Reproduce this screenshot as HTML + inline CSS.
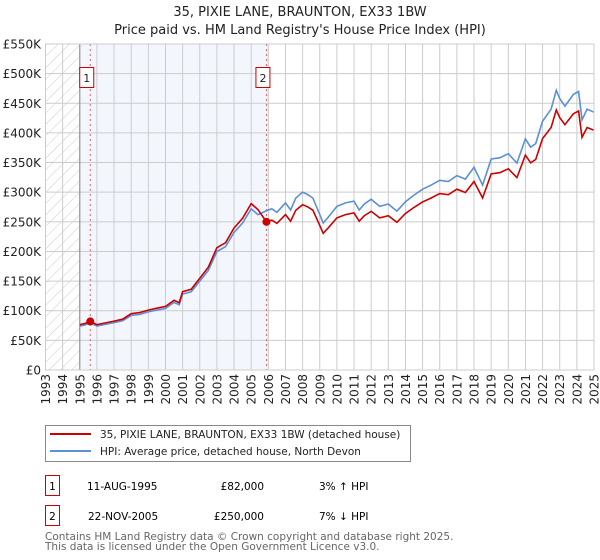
<!DOCTYPE html>
<html><head><meta charset="utf-8"><style>
body{margin:0;background:#fff;font-family:"DejaVu Sans","Liberation Sans",sans-serif;}
#wrap{position:relative;width:600px;height:560px;overflow:hidden;}
</style></head><body>
<div id="wrap">
<svg id="chart" width="600" height="560" xmlns="http://www.w3.org/2000/svg" font-family="DejaVu Sans, Liberation Sans, sans-serif">
<text x="300" y="16" text-anchor="middle" font-size="13" fill="#222">35, PIXIE LANE, BRAUNTON, EX33 1BW</text>
<text x="300" y="34" text-anchor="middle" font-size="13" fill="#222">Price paid vs. HM Land Registry's House Price Index (HPI)</text>
<defs><pattern id="hatch" width="8" height="8" patternUnits="userSpaceOnUse" patternTransform="rotate(45)"><line x1="0" y1="0" x2="0" y2="8" stroke="#ccc" stroke-width="1"/></pattern></defs>
<g id="plot"></g>
<g id="lower">
<rect x="45.5" y="425.5" width="365" height="36" fill="#fff" stroke="#888"/>
<line x1="50" y1="434" x2="91" y2="434" stroke="#cc0000" stroke-width="2"/>
<text x="100" y="438" font-size="10.5" fill="#222">35, PIXIE LANE, BRAUNTON, EX33 1BW (detached house)</text>
<line x1="50" y1="451" x2="91" y2="451" stroke="#5b8fd6" stroke-width="2"/>
<text x="100" y="455" font-size="10.5" fill="#222">HPI: Average price, detached house, North Devon</text>
<rect x="45.5" y="475.5" width="14" height="20" fill="#fff" stroke="#cc0000"/>
<text x="52.5" y="490" font-size="10.5" text-anchor="middle">1</text>
<text x="87" y="490" font-size="10.5">11-AUG-1995</text>
<text x="264" y="490" font-size="10.5" text-anchor="end">£82,000</text>
<text x="319" y="490" font-size="10.5">3% ↑ HPI</text>
<rect x="45.5" y="505.5" width="14" height="20" fill="#fff" stroke="#cc0000"/>
<text x="52.5" y="520" font-size="10.5" text-anchor="middle">2</text>
<text x="88" y="520" font-size="10.5">22-NOV-2005</text>
<text x="264" y="520" font-size="10.5" text-anchor="end">£250,000</text>
<text x="319" y="520" font-size="10.5">7% ↓ HPI</text>
<text x="45" y="540" font-size="10.5" fill="#666">Contains HM Land Registry data © Crown copyright and database right 2025.</text>
<text x="45" y="550" font-size="10.5" fill="#666">This data is licensed under the Open Government Licence v3.0.</text>
</g>
</svg>
</div>
<script>
const hpiYears = [1995.0,1995.3,1995.6,1996.0,1996.5,1997.0,1997.5,1998.0,1998.5,1999.0,1999.5,2000.0,2000.5,2000.8,2001.0,2001.5,2002.0,2002.5,2003.0,2003.5,2004.0,2004.5,2005.0,2005.4,2005.9,2006.2,2006.5,2007.0,2007.3,2007.6,2008.0,2008.3,2008.6,2009.0,2009.2,2009.5,2010.0,2010.5,2011.0,2011.3,2011.6,2012.0,2012.5,2013.0,2013.5,2014.0,2014.5,2015.0,2015.5,2016.0,2016.5,2017.0,2017.5,2018.0,2018.5,2019.0,2019.5,2020.0,2020.5,2021.0,2021.3,2021.6,2022.0,2022.5,2022.8,2023.0,2023.3,2023.8,2024.1,2024.3,2024.6,2025.0];
const hpiValues = [74000,76000,79600,74000,77000,80000,83000,92000,94000,98000,101000,104000,114000,110000,128000,132000,150000,168000,200000,208000,232000,248000,272000,262000,269000,272000,266000,282000,270000,290000,300000,296000,290000,262000,248000,258000,276000,282000,285000,270000,280000,288000,276000,280000,268000,284000,295000,305000,312000,320000,318000,328000,322000,342000,312000,356000,358000,365000,349000,390000,376000,382000,420000,440000,472000,458000,445000,465000,470000,422000,440000,435000];
const saleYears = [1995.61, 2005.89];
const salePrices = [82000, 250000];
const yTicks = [0,50000,100000,150000,200000,250000,300000,350000,400000,450000,500000,550000];
const yTickLabels = ["£0","£50K","£100K","£150K","£200K","£250K","£300K","£350K","£400K","£450K","£500K","£550K"];
const xTicks = [1993,1994,1995,1996,1997,1998,1999,2000,2001,2002,2003,2004,2005,2006,2007,2008,2009,2010,2011,2012,2013,2014,2015,2016,2017,2018,2019,2020,2021,2022,2023,2024,2025];

const L=45.5,R=594,T=44,B=370;
const xs=y=>L+(y-1993)/(2025-1993)*(R-L);
const ys=v=>B-v/550000*(B-T);
const NS="http://www.w3.org/2000/svg";
const g=document.getElementById('plot');
function mk(tag,attrs){const e=document.createElementNS(NS,tag);for(const k in attrs)e.setAttribute(k,attrs[k]);g.appendChild(e);return e;}
function hpiAt(t){for(let i=1;i<hpiYears.length;i++){if(t<=hpiYears[i]){const f=(t-hpiYears[i-1])/(hpiYears[i]-hpiYears[i-1]);return hpiValues[i-1]+f*(hpiValues[i]-hpiValues[i-1]);}}return hpiValues[hpiValues.length-1];}

let e=mk('rect',{x:xs(1995),y:T,width:xs(saleYears[1])-xs(1995)+2,height:B-T,fill:'#eef3fc',opacity:0.7});


e=mk('rect',{x:L,y:T,width:xs(1995)-L,height:B-T,fill:'url(#hatch)'});


yTicks.forEach((v,i)=>{
  let l=mk('line',{x1:L,x2:R,y1:ys(v),y2:ys(v),stroke:'#ccc','stroke-width':1});
  
  
  let t=mk('text',{x:41,y:ys(v)+4.5,'text-anchor':'end','font-size':12,fill:'#222'});
  t.textContent=yTickLabels[i];
  
  
});
xTicks.forEach(yr=>{
  let l=mk('line',{x1:xs(yr),x2:xs(yr),y1:T,y2:B,stroke:'#ccc','stroke-width':1});
  
  
  let t=mk('text',{x:0,y:0,'font-size':12,fill:'#222','text-anchor':'end',transform:`translate(${xs(yr)+4.5},374) rotate(-90)`});
  t.textContent=yr;
  
  
});
e=mk('line',{x1:xs(1995),x2:xs(1995),y1:T,y2:B,stroke:'#888','stroke-width':1});


saleYears.forEach((sy,i)=>{
  let l=mk('line',{x1:xs(sy),x2:xs(sy),y1:T,y2:B,stroke:'#e06060','stroke-width':1,'stroke-dasharray':'2,3'});
  
  
  let r=mk('rect',{x:xs(sy)-10.5,y:67.5,width:14,height:20,fill:'#fff',stroke:'#cc0000'});
  
  
  let t=mk('text',{x:xs(sy)-3.5,y:82,'font-size':11,'text-anchor':'middle',fill:'#222'});
  t.textContent=String(i+1);
  
  
});
let hp=hpiYears.map((y,i)=>xs(y).toFixed(1)+','+ys(hpiValues[i]).toFixed(1)).join(' ');
e=mk('polyline',{points:hp,fill:'none',stroke:'#5b8fd6','stroke-width':1.6});


const ratios=saleYears.map((s,i)=>salePrices[i]/hpiAt(s));
let pts=[];
hpiYears.forEach((y,i)=>{
  if(y>saleYears[1]&&(pts.length&&hpiYears[i-1]<=saleYears[1])){pts.push([saleYears[1],salePrices[1]]);}
  const r=y<saleYears[1]?ratios[0]:ratios[1];
  pts.push([y,hpiValues[i]*r]);
});
let pp=pts.map(p=>xs(p[0]).toFixed(1)+','+ys(p[1]).toFixed(1)).join(' ');
e=mk('polyline',{points:pp,fill:'none',stroke:'#cc0000','stroke-width':1.6});


saleYears.forEach((sy,i)=>{
  let c=mk('circle',{cx:xs(sy),cy:ys(salePrices[i]),r:4,fill:'#cc0000'});
  
  
});
e=mk('rect',{x:L,y:T,width:R-L,height:B-T,fill:'none',stroke:'#ccc'});


</script>
</body></html>
